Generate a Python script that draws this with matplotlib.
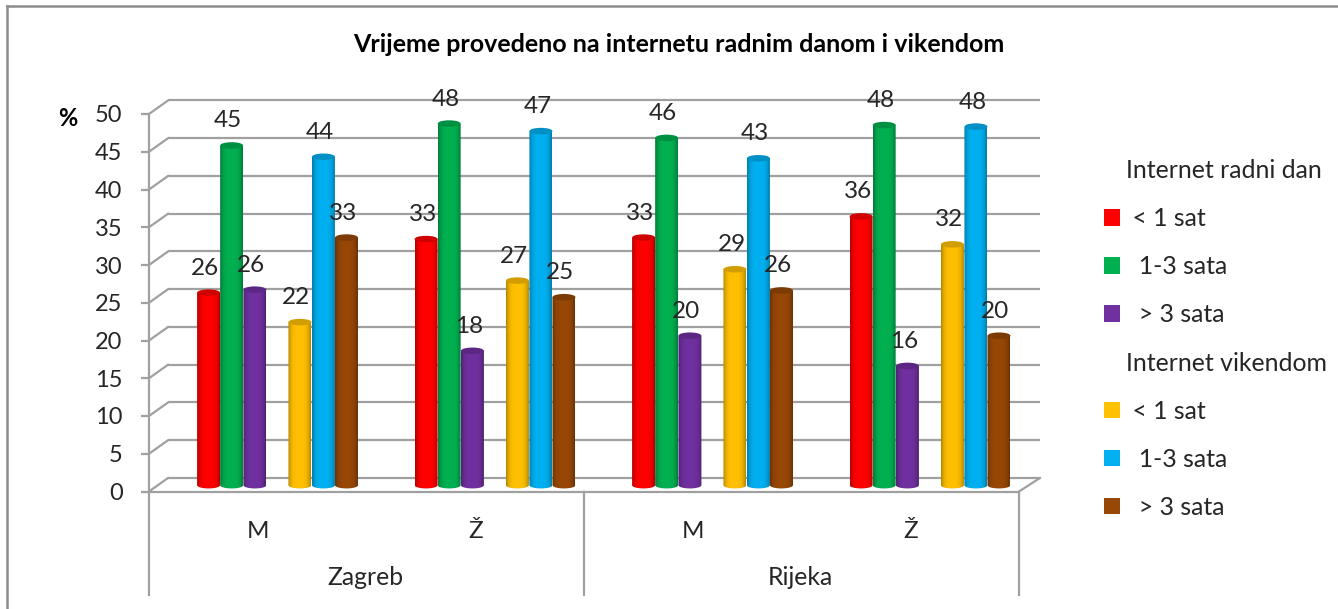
import numpy as np
import matplotlib
matplotlib.use("Agg")
import matplotlib.pyplot as plt
from matplotlib.colors import to_rgb
from matplotlib.lines import Line2D
from matplotlib.patches import Ellipse, Patch, PathPatch
from matplotlib.path import Path

plt.rcParams['font.family'] = ['Lato', 'DejaVu Sans']

W, H = 1338, 609
title = "Vrijeme provedeno na internetu radnim danom i vikendom"
genders = ["M", "Ž", "M", "Ž"]
cities = ["Zagreb", "Rijeka"]

radni_manje1 = [25.5, 32.6, 32.8, 35.6]
radni_1do3 = [45.0, 47.9, 46.0, 47.7]
radni_vise3 = [25.9, 17.8, 19.8, 15.8]
vikend_manje1 = [21.6, 27.1, 28.6, 31.9]
vikend_1do3 = [43.5, 46.9, 43.3, 47.5]
vikend_vise3 = [32.8, 24.9, 25.8, 19.8]

series = [radni_manje1, radni_1do3, radni_vise3,
          vikend_manje1, vikend_1do3, vikend_vise3]
colors = ["#ff0000", "#00b050", "#7030a0", "#ffc000", "#00b0f0", "#974706"]
legend_labels = [" < 1 sat", "  1-3 sata", "  > 3 sata"]
yticks = np.arange(0, 51, 5)

GRID = "#a0a0a0"
TEXT = "#262626"
px_x = 217.5  # pixels per category
px_y = 7.54  # pixels per percent
depth_x = 19 / px_x
depth_y = 13.5 / px_y
lift = 6.3 / px_y  # bars stand in the middle of the floor
bar_w = 23 / px_x
offsets = np.array([-0.226, -0.120, -0.013, 0.194, 0.302, 0.408])
cap_h = 6.5 / px_y

fig = plt.figure(figsize=(W / 100, H / 100), dpi=100, facecolor="white")
ax = fig.add_axes([149 / W, (H - 491.5) / H, 870 / W, 377.5 / H])
xl, xr = -0.5, 3.5
cats = np.arange(len(genders))


def cylinder_colors(color):
    # dark edges, light in the middle, like the shaded 3d columns
    c = np.array(to_rgb(color))
    t = np.linspace(-1, 1, 48)
    shade = 1 - 0.30 * np.abs(t) ** 3.5
    return (c[None, :] * shade[:, None])[None, :, :]


for k, (vals, color, off) in enumerate(zip(series, colors, offsets)):
    bars = ax.bar(cats + off, vals, bar_w, bottom=lift, color=color, zorder=3)
    for j, (bar, v) in enumerate(zip(bars, vals)):
        z = 5 + j * 10 + k
        bar.set_visible(False)
        x0 = bar.get_x()
        x1 = x0 + bar.get_width()
        cx = (x0 + x1) / 2
        top = lift + v
        t = np.linspace(np.pi, 2 * np.pi, 30)
        low_x = cx + np.cos(t) * bar_w / 2
        low_y = lift + np.sin(t) * cap_h / 2
        body = Path(np.column_stack([np.r_[low_x, x1, x0, x0],
                                     np.r_[low_y, top, top, lift]]))
        im = ax.imshow(cylinder_colors(color), extent=(x0, x1, lift - cap_h, top),
                       aspect="auto", interpolation="bilinear", zorder=z)
        im.set_clip_path(PathPatch(body, transform=ax.transData))
        dark = np.array(to_rgb(color)) * 0.82
        ax.add_patch(Ellipse((cx, top), bar_w, cap_h, angle=0, facecolor=dark,
                             edgecolor="none", zorder=z + 0.5))
        ax.annotate(f"{v:.0f}", (cx, top), xytext=(-3.5 * 0.72, 24.5 * 0.72),
                    textcoords="offset points", ha="center", va="center",
                    fontsize=17.5, color=TEXT, zorder=100, annotation_clip=False)

ax.set_xlim(xl, xr)
ax.set_ylim(0, 50)

# back wall and floor
ax.hlines(yticks + depth_y, xl + depth_x, xr + depth_x + 2 / px_x, color=GRID, lw=1.6,
          zorder=1, clip_on=False)
for y in yticks:
    ax.plot([xl, xl + depth_x], [y, y + depth_y], color=GRID, lw=1.6, zorder=1,
            clip_on=False)
ax.plot([xr, xr + depth_x + 2 / px_x], [0, depth_y], color=GRID, lw=1.6, zorder=1,
        clip_on=False)

for name in ["top", "right"]:
    ax.spines[name].set_visible(False)
for name in ["left", "bottom"]:
    ax.spines[name].set_color(GRID)
    ax.spines[name].set_linewidth(1.6)
    ax.spines[name].set_zorder(2)

ax.set_yticks(yticks)
ax.tick_params(axis="y", length=6, width=1.6, color=GRID, pad=13, labelsize=17,
               labelcolor=TEXT)
ax.set_xticks(cats)
ax.set_xticklabels(genders)
ax.tick_params(axis="x", length=0, pad=21, labelsize=17.5, labelcolor=TEXT)

# two level category axis
tr = ax.get_xaxis_transform()
for x in [xl, 1.5, xr]:
    ax.add_line(Line2D([x, x], [0, -103 / 377.5], transform=tr, color=GRID, lw=1.6,
                       clip_on=False))
for x, city in zip([0.5, 2.5], cities):
    ax.text(x - 1.5 / px_x, -86 / 377.5, city, transform=tr, ha="center", va="center",
            fontsize=17.8, color=TEXT)

ax.text(68 / W, 1 - 118 / H, "%", transform=fig.transFigure, ha="center", va="center",
        fontsize=17, fontweight="bold", color="black")
fig.text(679 / W, 1 - 45 / H, title, ha="center", va="center", fontsize=18,
         fontweight="bold", color="black")

# legend, with the two group names as rows without a key
handles = [Patch(facecolor="none", edgecolor="none")]
labels = ["Internet radni dan"]
for i in range(3):
    handles.append(Patch(facecolor=colors[i]))
    labels.append(legend_labels[i])
handles.append(Patch(facecolor="none", edgecolor="none"))
labels.append("Internet vikendom")
for i in range(3, 6):
    handles.append(Patch(facecolor=colors[i]))
    labels.append(legend_labels[i - 3])
fig.legend(handles, labels, loc="center left", bbox_to_anchor=(1104 / W, 1 - 339 / H),
           frameon=False, fontsize=17.9, labelcolor=TEXT, handlelength=0.64,
           handleheight=0.64, handletextpad=0.24, labelspacing=1.01, borderpad=0,
           borderaxespad=0)

# the frame, only its left and top sides are in the picture
fig.add_artist(Line2D([7 / W, 7 / W], [0, 1 - 6 / H], color="#8c8c8c", lw=1.8))
fig.add_artist(Line2D([7 / W, 1], [1 - 6 / H, 1 - 6 / H], color="#8c8c8c", lw=1.8))

fig.savefig("out.png", dpi=100)
